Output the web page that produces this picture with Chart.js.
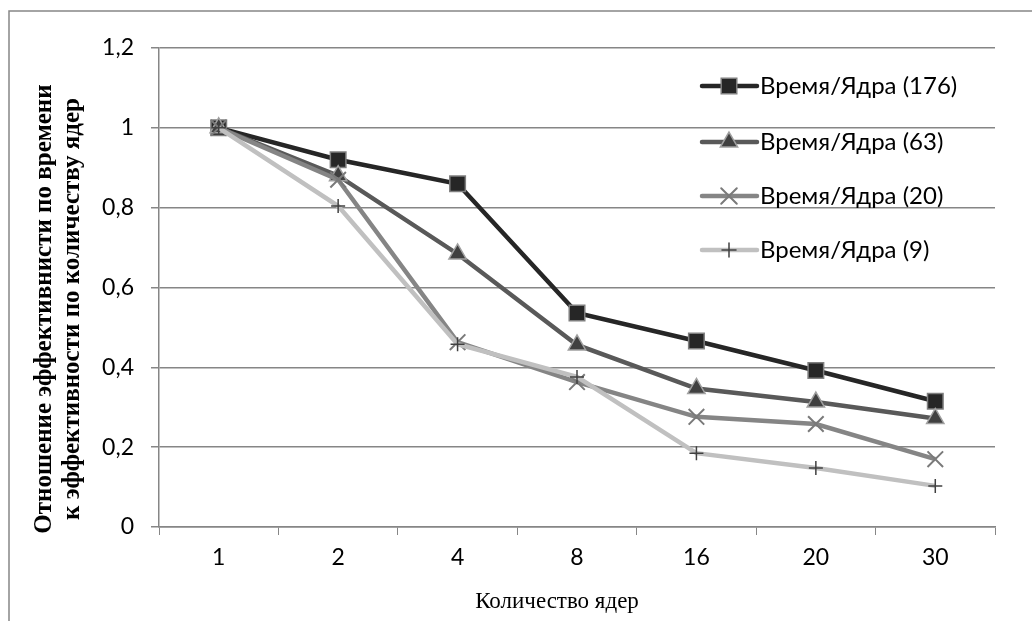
<!DOCTYPE html>
<html>
<head>
<meta charset="utf-8">
<script src="https://cdn.jsdelivr.net/npm/chart.js@4/dist/chart.umd.min.js"></script>
<style>
html, body { margin: 0; padding: 0; background: #fff; }
</style>
</head>
<body>
<canvas id="myChart" width="1032" height="621"></canvas>
<script>
// data
const cores = ['1', '2', '4', '8', '16', '20', '30'];
const series176 = [1, 0.92, 0.86, 0.536, 0.466, 0.392, 0.315];
const series63 = [1, 0.88, 0.684, 0.456, 0.347, 0.313, 0.272];
const series20 = [1, 0.87, 0.463, 0.363, 0.276, 0.258, 0.17];
const series9 = [1, 0.804, 0.458, 0.376, 0.185, 0.148, 0.103];
const yTicks = [0, 0.2, 0.4, 0.6, 0.8, 1, 1.2];
const yTickLabels = ['0', '0,2', '0,4', '0,6', '0,8', '1', '1,2'];

const yTitle = ['Отношение эффективнисти по времени', 'к эффективности по количеству ядер'];
const xTitle = 'Количество ядер';

const gridColor = '#868686';
const tickFont = { family: 'Lato', size: 23 };

// frame, axis titles and legend drawn on top
const decorPlugin = {
    id: 'decor',
    afterDraw(chart) {
        const ctx = chart.ctx;
        ctx.save();
        // outer frame (only top and left edges are in the picture)
        ctx.strokeStyle = gridColor;
        ctx.lineWidth = 1.5;
        ctx.beginPath();
        ctx.moveTo(9, 621);
        ctx.lineTo(9, 11);
        ctx.lineTo(1032, 11);
        ctx.stroke();

        // y title, two lines rotated
        ctx.fillStyle = '#000';
        ctx.font = 'bold 25px "Liberation Serif"';
        ctx.textAlign = 'center';
        ctx.textBaseline = 'middle';
        const cy = 309;
        [45, 73].forEach((x, i) => {
            ctx.save();
            ctx.translate(x, cy);
            ctx.rotate(-Math.PI / 2);
            ctx.fillText(yTitle[i], 0, 0);
            ctx.restore();
        });

        // x title
        ctx.font = '23px "Liberation Serif"';
        ctx.fillText(xTitle, 557, 602);

        // legend
        const rows = [86, 142, 196, 250];
        chart.data.datasets.forEach((ds, i) => {
            const y = rows[i];
            ctx.strokeStyle = ds.borderColor;
            ctx.lineWidth = ds.borderWidth;
            ctx.lineCap = 'round';
            ctx.beginPath();
            ctx.moveTo(702, y);
            ctx.lineTo(757, y);
            ctx.stroke();
            ctx.fillStyle = ds.pointBackgroundColor;
            ctx.strokeStyle = ds.pointBorderColor;
            ctx.lineWidth = ds.pointBorderWidth;
            Chart.helpers.drawPoint(ctx, { pointStyle: ds.pointStyle, radius: ds.pointRadius, borderWidth: ds.pointBorderWidth }, 729, y);
            ctx.fillStyle = '#000';
            ctx.font = '24px Lato';
            ctx.textAlign = 'left';
            ctx.fillText(ds.label, 760, y);
        });
        ctx.restore();
    }
};

const data = {
    labels: cores,
    datasets: [
        {
            label: 'Время/Ядра (176)',
            data: series176,
            borderColor: '#262626',
            borderWidth: 4.5,
            pointStyle: 'rect',
            pointRadius: 11,
            pointBackgroundColor: '#262626',
            pointBorderColor: '#7f7f7f',
            pointBorderWidth: 1.5,
            order: 3
        },
        {
            label: 'Время/Ядра (63)',
            data: series63,
            borderColor: '#595959',
            borderWidth: 4.5,
            pointStyle: 'triangle',
            pointRadius: 10,
            pointBackgroundColor: '#404040',
            pointBorderColor: '#a0a0a0',
            pointBorderWidth: 1.5,
            order: 2
        },
        {
            label: 'Время/Ядра (20)',
            data: series20,
            borderColor: '#858585',
            borderWidth: 4.5,
            pointStyle: 'crossRot',
            pointRadius: 11,
            pointBackgroundColor: '#7a7a7a',
            pointBorderColor: '#7a7a7a',
            pointBorderWidth: 2,
            order: 1
        },
        {
            label: 'Время/Ядра (9)',
            data: series9,
            borderColor: '#c0c0c0',
            borderWidth: 4.5,
            pointStyle: 'cross',
            pointRadius: 7,
            pointBackgroundColor: '#404040',
            pointBorderColor: '#404040',
            pointBorderWidth: 1.5,
            order: 0
        }
    ]
};

const options = {
    responsive: false,
    animation: false,
    devicePixelRatio: 1,
    layout: { padding: { left: 9, right: 37, top: 48, bottom: 0 } },
    plugins: {
        legend: { display: false },
        tooltip: { enabled: false }
    },
    elements: { line: { tension: 0 } },
    scales: {
        x: {
            offset: true,
            grid: { offset: true, drawOnChartArea: false, drawTicks: true, tickLength: 8, color: gridColor },
            border: { color: gridColor, width: 1.5 },
            ticks: { font: tickFont, color: '#000', padding: 9 },
            afterFit: (s) => { s.height = 94; }
        },
        y: {
            min: 0,
            max: 1.2,
            afterBuildTicks: (s) => { s.ticks = yTicks.map(v => ({ value: v })); },
            grid: { tickLength: 8, color: gridColor, lineWidth: 1.5 },
            border: { color: gridColor, width: 1.5 },
            ticks: {
                font: tickFont,
                color: '#000',
                padding: 17,
                callback: (value, index) => yTickLabels[index]
            },
            afterFit: (s) => { s.width = 150; }
        }
    }
};

const ctx = document.getElementById('myChart').getContext('2d');
const myChart = new Chart(ctx, {
    type: 'line',
    data: data,
    options: options,
    plugins: [decorPlugin]
});
</script>
</body>
</html>
